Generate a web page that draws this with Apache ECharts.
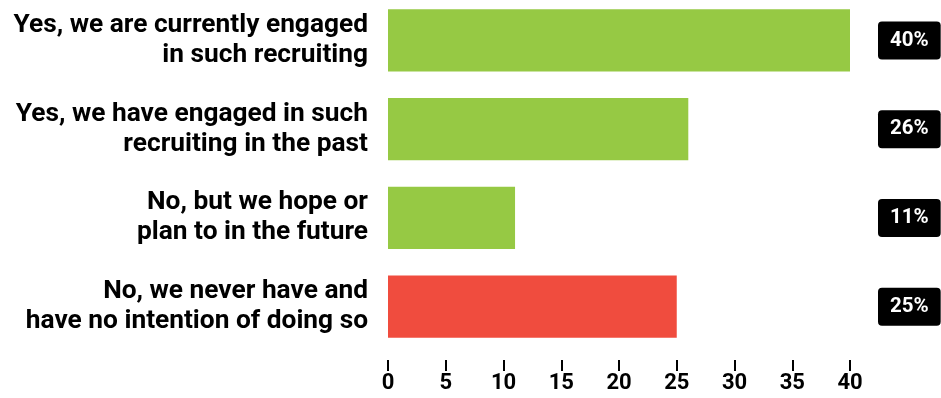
<!DOCTYPE html>
<html>
<head>
<meta charset="utf-8">
<script src="https://cdn.jsdelivr.net/npm/echarts@6/dist/echarts.min.js"></script>
<style>
  html, body { margin: 0; padding: 0; background: #fff; }
  #chart { width: 941px; height: 398px; }
</style>
</head>
<body>
<div id="chart"></div>
<script>
// Survey answers and the share of respondents giving each one (%)
const categories = [
  'Yes, we are currently engaged\nin such recruiting',
  'Yes, we have engaged in such\nrecruiting in the past',
  'No, but we hope or\nplan to in the future',
  'No, we never have and\nhave no intention of doing so'
];
const shares = [40, 26, 11, 25];
const barColors = ['#96c944', '#96c944', '#96c944', '#f04c3e'];
const xTicks = [0, 5, 10, 15, 20, 25, 30, 35, 40];

const chart = echarts.init(document.getElementById('chart'), null, { renderer: 'canvas' });

chart.setOption({
  animation: false,
  grid: {
    left: 388, right: 91, top: -4, bottom: 47,
    containLabel: false,
    outerBoundsMode: 'none'
  },
  xAxis: {
    type: 'value',
    min: xTicks[0],
    max: xTicks[xTicks.length - 1],
    interval: 5,
    offset: 9,
    splitLine: { show: false },
    axisLine: { show: false },
    axisTick: { show: true, length: 11, lineStyle: { color: '#000', width: 2 } },
    axisLabel: {
      margin: 12,
      color: '#000',
      fontFamily: 'Roboto',
      fontWeight: 'bold',
      fontSize: 22
    }
  },
  yAxis: [
    {
      type: 'category',
      data: categories,
      inverse: true,
      axisLine: { show: false },
      axisTick: { show: false },
      axisLabel: {
        interval: 0,
        margin: 20,
        color: '#000',
        fontFamily: 'Roboto',
        fontWeight: 'bold',
        fontSize: 26.3,
        lineHeight: 30,
        align: 'right'
      }
    },
    {
      type: 'category',
      data: categories,
      inverse: true,
      position: 'right',
      axisLine: { show: false },
      axisTick: { show: false },
      axisLabel: {
        interval: 0,
        margin: 28,
        align: 'left',
        formatter: (v, i) => shares[i] + '%',
        color: '#fff',
        backgroundColor: '#000',
        borderRadius: 4,
        padding: [9, 12, 8, 12],
        fontFamily: 'Roboto',
        fontWeight: 'bold',
        fontSize: 20.5
      }
    }
  ],
  series: [{
    type: 'bar',
    data: shares.map((v, i) => ({ value: v, itemStyle: { color: barColors[i] } })),
    barCategoryGap: '30%'
  }]
});
</script>
</body>
</html>
